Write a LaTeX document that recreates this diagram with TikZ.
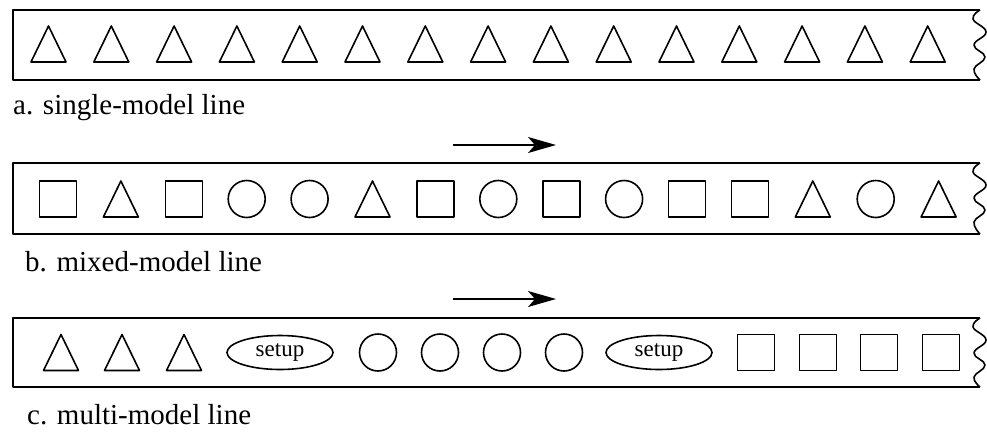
\documentclass[tikz,border=0pt]{standalone}
\usepackage{fontspec}
\setmainfont{Liberation Serif}
\usetikzlibrary{shapes.geometric,arrows.meta}
\tikzset{
  x=1pt, y=-1pt,
  ln/.style={line width=1.6pt, line join=round},
  sq/.style={ln, draw, rectangle, minimum width=37pt, minimum height=36pt, inner sep=0pt},
  ci/.style={ln, draw, circle, minimum size=37pt, inner sep=0pt},
  su/.style={ln, draw, ellipse, minimum width=106pt, minimum height=34pt, inner sep=0pt, font=\fontsize{23}{25}\selectfont},
  tri/.pic={\draw[ln] (-17.5,18) -- (0,-18) -- (17.5,18) -- cycle;},
  lab/.style={anchor=base west, inner sep=0pt, font=\fontsize{29}{32}\selectfont},
  flow/.style={line width=1.6pt, -{Stealth[length=28pt,width=16pt,inset=7pt]}},
}
\newcommand\linebox[2]{% top, bottom
  \draw[ln] (980,#1) -- (13,#1) -- (13,#2) -- (980,#2);
  \draw[ln] plot[smooth, tension=0.75] coordinates {(980,#1) (973,#1+9) (986,#1+22) (974,#1+35) (985,#1+47) (974,#1+59) (980,#2)};
}
\begin{document}
\begin{tikzpicture}
\useasboundingbox (0,0) rectangle (987,432);
% ---- a
\linebox{10}{80}
\foreach \k in {0,...,14} { \pic (ta\k) at ({48.5+62.8*\k},44) {tri}; }
\node[lab] (la) at (13,114) {a. single-model line};
% ---- b
\coordinate (b1) at (453,145);
\coordinate (b2) at (556,145);
\draw[flow] (b1) -- (b2);
\linebox{163}{234}
\foreach \s [count=\i from 0] in {sq,tri,sq,ci,ci,tri,sq,ci,sq,ci,sq,sq,tri,ci,tri} {
  \pgfmathsetmacro\xx{58+62.9*\i}
  \def\tmp{tri}
  \ifx\s\tmp \pic (sb\i) at (\xx,199) {tri};
  \else \node[\s] (sb\i) at (\xx,199) {};
  \fi
}
\node[lab] (lb) at (25,271) {b. mixed-model line};
% ---- c
\coordinate (c1) at (453,299);
\coordinate (c2) at (556,299);
\draw[flow] (c1) -- (c2);
\linebox{318}{387}
\pic (tc1) at (61,352.5) {tri};
\pic (tc2) at (122,352.5) {tri};
\pic (tc3) at (184,352.5) {tri};
\node[su] (s1) at (280,352.5) {setup};
\node[ci] (cc1) at (378,352.5) {};
\node[ci] (cc2) at (440,352.5) {};
\node[ci] (cc3) at (502,352.5) {};
\node[ci] (cc4) at (564,352.5) {};
\node[su] (s2) at (659,352.5) {setup};
\node[sq] (qc1) at (756,352.5) {};
\node[sq] (qc2) at (818,352.5) {};
\node[sq] (qc3) at (879,352.5) {};
\node[sq] (qc4) at (941,352.5) {};
\node[lab] (lc) at (27,424) {c. multi-model line};
\end{tikzpicture}
\end{document}
